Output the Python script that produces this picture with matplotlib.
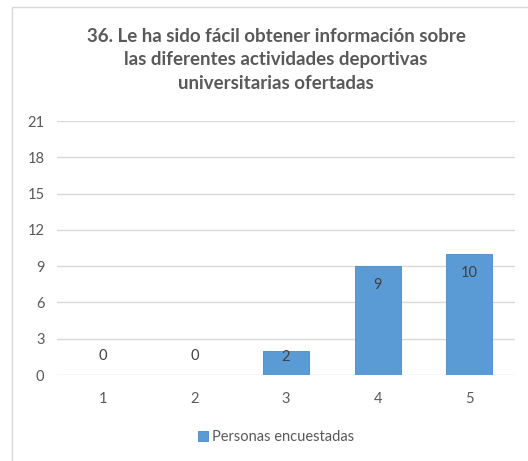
import matplotlib.pyplot as plt
from matplotlib.patches import Rectangle

# Data
categories = ['1', '2', '3', '4', '5']
values = [0, 0, 2, 9, 10]
series_name = 'Personas encuestadas'
title = ('36. Le ha sido fácil obtener información sobre\n'
         'las diferentes actividades deportivas\n'
         'universitarias ofertadas')
y_ticks = [0, 3, 6, 9, 12, 15, 18, 21]

plt.rcParams['font.family'] = ['Lato', 'DejaVu Sans']

fig = plt.figure(figsize=(5.28, 4.61), dpi=100)
fig.patch.set_facecolor('white')

# chart border like the spreadsheet frame
fig.patches.append(Rectangle((12 / 528, -0.1), 1.2, 1 - 7 / 461 + 0.1,
                             transform=fig.transFigure, fill=False,
                             edgecolor='#D9D9D9', linewidth=1.0))

ax = fig.add_axes([57 / 528, 86 / 461, 458 / 528, 254 / 461])

x = range(len(categories))
bars = ax.bar(x, values, width=0.5, color='#5B9BD5', edgecolor='#4A89C4',
              linewidth=0.6, label=series_name, zorder=3)

# data labels: inside end, pushed up for short bars, above the base for zeros
pt_per_unit = (254 / 21) * 72 / 100
for xi, v in zip(x, values):
    h_pt = v * pt_per_unit
    if v == 0:
        off = 13.5
    else:
        off = -min(13.5, h_pt - 13)
    ax.annotate(str(v), (xi, v), xytext=(0, off), textcoords='offset points',
                ha='center', va='center', fontsize=10.5, color='#404040', zorder=4)

ax.set_ylim(0, 21)
ax.set_xlim(-0.5, 4.5)
ax.set_yticks(y_ticks)
ax.set_xticks(list(x))
ax.set_xticklabels(categories)
ax.grid(axis='y', color='#D9D9D9', linewidth=1.0, zorder=0)
for s in ax.spines.values():
    s.set_visible(False)
ax.tick_params(axis='both', length=0, labelsize=10.5, labelcolor='#595959')
ax.tick_params(axis='y', pad=9)
ax.tick_params(axis='x', pad=12)

fig.text(276 / 528, 1 - 60 / 461, title, ha='center', va='center',
         fontsize=13.5, fontweight='bold', color='#595959', linespacing=1.45)

fig.legend(loc='center', bbox_to_anchor=(276 / 528, 1 - 437 / 461), frameon=False,
           fontsize=10.5, handlelength=0.7, handleheight=0.7, handletextpad=0.3,
           labelcolor='#595959')

fig.savefig('out.png', dpi=100)
